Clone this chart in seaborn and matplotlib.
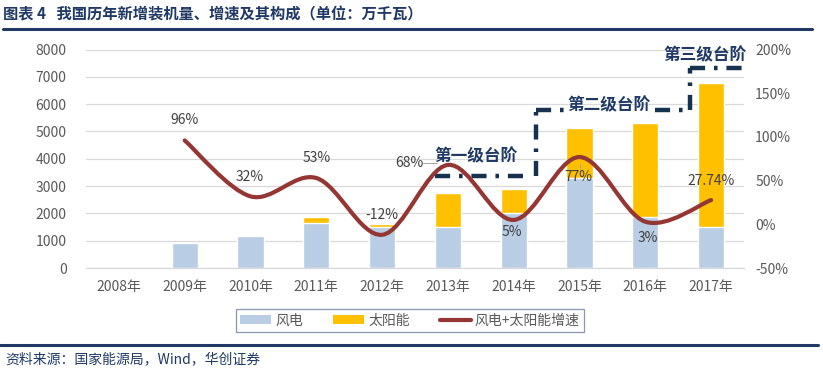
import numpy as np
import pandas as pd
import matplotlib
matplotlib.use("Agg")
import matplotlib.pyplot as plt
import seaborn as sns
from matplotlib.path import Path
from matplotlib.patches import PathPatch, Patch
from matplotlib.lines import Line2D

# ---------------- data ----------------
years = ["2008年", "2009年", "2010年", "2011年", "2012年",
         "2013年", "2014年", "2015年", "2016年", "2017年"]
wind = [0, 900, 1190, 1660, 1490, 1490, 2000, 3300, 1850, 1500]
solar = [0, 0, 20, 200, 130, 1270, 900, 1830, 3470, 5290]
growth = [np.nan, 96, 32, 53, -12, 68, 5, 77, 3, 27.74]
growth_labels = ["", "96%", "32%", "53%", "-12%", "68%", "5%", "77%", "3%", "27.74%"]
step_labels = ["第一级台阶", "第二级台阶", "第三级台阶"]

# ---------------- style ----------------
sns.set_theme(style="white")
plt.rcParams["font.family"] = ["Noto Sans CJK SC", "DejaVu Sans"]
plt.rcParams["axes.unicode_minus"] = False

C_WIND = "#B9CDE5"
C_SOLAR = "#FFC000"
C_LINE = "#943634"
C_NAVY = "#1F3864"
C_TICK = "#595959"
C_GRID = "#D9D9D9"

W, H = 823, 375
fig = plt.figure(figsize=(W / 100, H / 100), dpi=100)
ax = fig.add_axes([86 / W, 1 - 268 / H, 658 / W, 218.4 / H])

df = pd.DataFrame({"year": years, "wind": wind,
                   "total": np.array(wind) + np.array(solar)})

sns.barplot(data=df, x="year", y="total", color=C_SOLAR, saturation=1,
            width=0.4, ax=ax, order=years)
sns.barplot(data=df, x="year", y="wind", color=C_WIND, saturation=1,
            width=0.4, ax=ax, order=years)

ax.set_xlim(-0.5, 9.5)
ax.set_ylim(0, 8000)
ax.set_yticks(range(0, 8001, 1000))
ax.set_xlabel("")
ax.set_ylabel("")
ax.grid(axis="y", color=C_GRID, lw=0.9)
ax.set_axisbelow(True)
for s in ["left", "right", "top"]:
    ax.spines[s].set_visible(False)
ax.spines["bottom"].set_color(C_GRID)
ax.spines["bottom"].set_linewidth(0.9)
ax.tick_params(axis="y", length=0, pad=14, labelsize=10, labelcolor=C_TICK)
ax.tick_params(axis="x", length=0, pad=9, labelsize=10, labelcolor=C_TICK)

# ---------------- growth line (smoothed) ----------------
ax2 = ax.twinx()
ax2.set_ylim(-50, 200)
ax2.set_yticks(range(-50, 201, 50))
ax2.set_yticklabels([f"{v}%" for v in range(-50, 201, 50)])
for s in ax2.spines.values():
    s.set_visible(False)
ax2.tick_params(axis="y", length=0, pad=8, labelsize=10, labelcolor=C_TICK)
ax2.grid(False)

xs = np.array([i for i, g in enumerate(growth) if not np.isnan(g)], dtype=float)
gs = np.array([g for g in growth if not np.isnan(g)], dtype=float)
pts = np.column_stack([xs, gs])
n = len(pts)
verts = [pts[0]]
codes = [Path.MOVETO]
for i in range(n - 1):
    p0 = pts[max(i - 1, 0)]
    p1 = pts[i]
    p2 = pts[i + 1]
    p3 = pts[min(i + 2, n - 1)]
    c1 = p1 + (p2 - p0) / 6.0
    c2 = p2 - (p3 - p1) / 6.0
    verts += [c1, c2, p2]
    codes += [Path.CURVE4] * 3
ax2.add_patch(PathPatch(Path(verts, codes), facecolor="none", edgecolor=C_LINE,
                        lw=3.0, capstyle="round", joinstyle="round", zorder=5))
ax2.set_xlim(-0.5, 9.5)

# data labels
label_pos = {1: (1.0, 119.5), 2: (1.99, 54.7), 3: (3.0, 75.8), 4: (4.0, 10.8),
             5: (4.42, 70.0), 6: (5.97, -9.0), 7: (6.99, 54.7), 8: (8.04, -16.0),
             9: (9.0, 49.8)}
for i, (lx, ly) in label_pos.items():
    ax2.text(lx, ly, growth_labels[i], ha="center", va="center", fontsize=10,
             color="#404040", zorder=6)
# leader lines
ax2.plot([4.62, 4.84], [70.0, 70.0], color="#A6A6A6", lw=0.7, zorder=4)
ax2.plot([7.0, 7.0], [69.0, 62.0], color="#A6A6A6", lw=0.7, zorder=4)

# ---------------- step annotations ----------------
step_kw = dict(color="#17324F", lw=3.2, linestyle=(0, (3.4, 2.0, 0.8, 2.0)),
               solid_capstyle="butt", dash_capstyle="butt", zorder=7)
ax.plot([4.80, 6.25], [3370, 3370], **step_kw)
ax.plot([6.34, 6.34], [3370, 5790], **step_kw)
ax.plot([6.34, 6.78], [5790, 5790], **step_kw)
ax.plot([8.15, 8.68], [5790, 5790], **step_kw)
ax.plot([8.68, 8.68], [5790, 7330], **step_kw)
ax.plot([8.68, 9.52], [7330, 7330], **step_kw)

txt_kw = dict(ha="center", va="center", fontsize=12, fontweight="bold",
              color=C_NAVY, zorder=8)
ax.text(5.43, 4100, step_labels[0], **txt_kw)
ax.text(7.45, 5970, step_labels[1], **txt_kw)
ax.text(8.90, 7800, step_labels[2], **txt_kw)

# ---------------- legend ----------------
handles = [Patch(facecolor=C_WIND, edgecolor="none"),
           Patch(facecolor=C_SOLAR, edgecolor="none"),
           Line2D([0], [0], color=C_LINE, lw=3.0, solid_capstyle="round")]
leg = fig.legend(handles, ["风电", "太阳能", "风电+太阳能增速"], loc="center",
                 bbox_to_anchor=(410 / W, 1 - 320.5 / H), ncol=3, frameon=True,
                 fancybox=False, fontsize=10, handlelength=2.2, handleheight=0.55,
                 handletextpad=0.3, columnspacing=2.2, borderpad=0.3)
leg.get_frame().set_edgecolor("#6A7F9A")
leg.get_frame().set_linewidth(0.9)
for t in leg.get_texts():
    t.set_color(C_TICK)

# ---------------- title / source ----------------
fig.text(3 / W, 1 - 14 / H, "图表 4   我国历年新增装机量、增速及其构成（单位：万千瓦）",
         ha="left", va="center", fontsize=11, fontweight="bold", color=C_NAVY)
fig.add_artist(Line2D([3 / W, 812 / W], [1 - 29 / H, 1 - 29 / H],
                      color=C_NAVY, lw=2.2))
fig.add_artist(Line2D([0, 818 / W], [1 - 345 / H, 1 - 345 / H],
                      color=C_NAVY, lw=2.2))
fig.text(5 / W, 1 - 359 / H, "资料来源：国家能源局，Wind，华创证券",
         ha="left", va="center", fontsize=10, style="italic", color=C_NAVY)

fig.savefig("out.png", dpi=100)
